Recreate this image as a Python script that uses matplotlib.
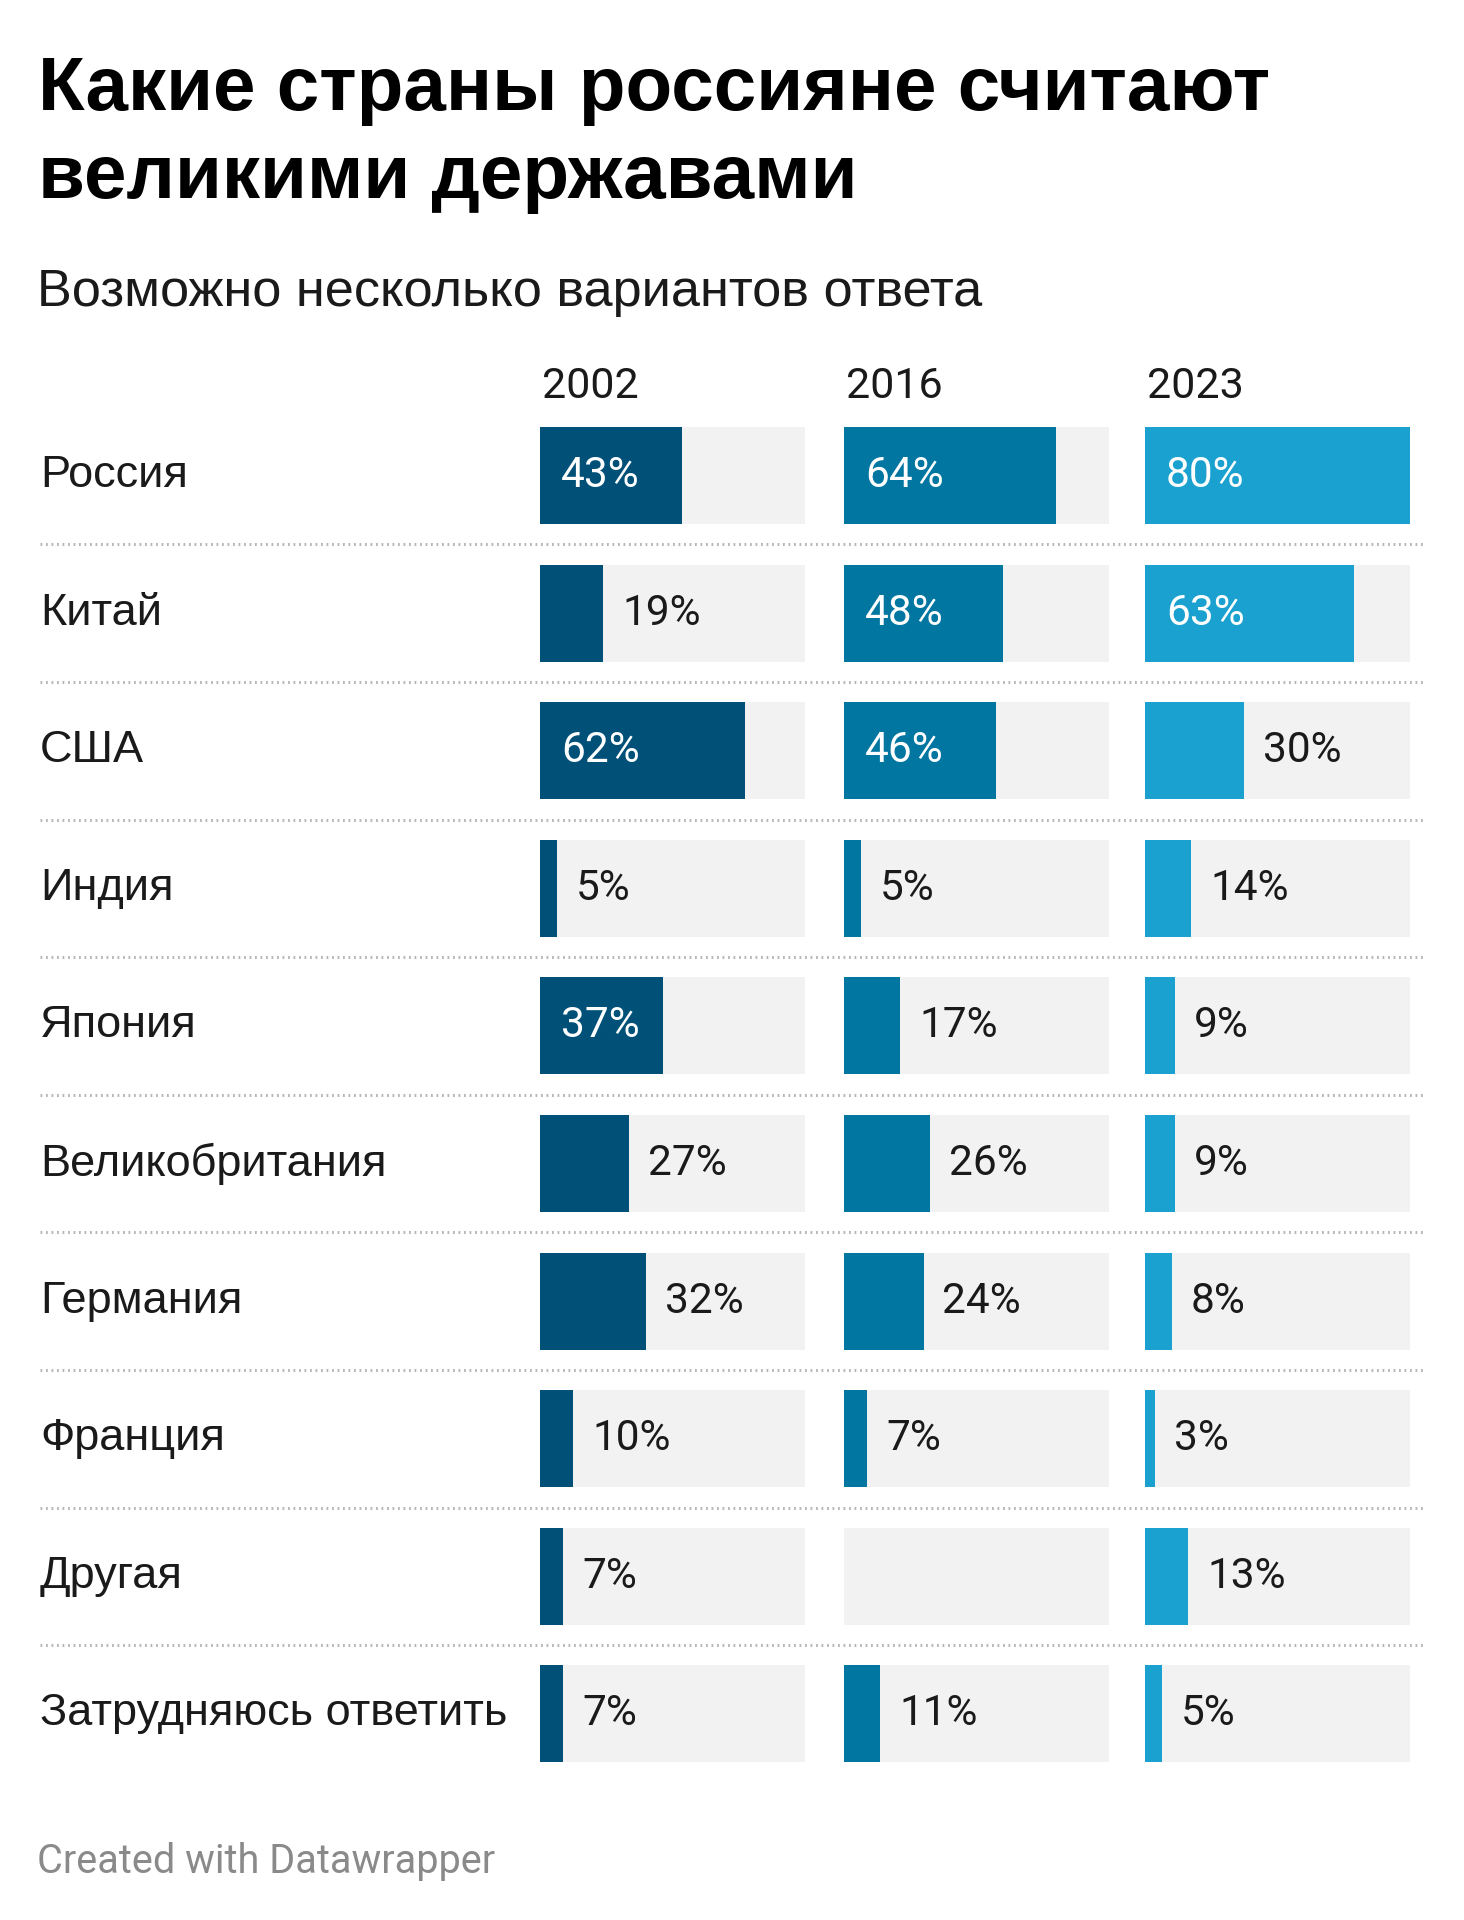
import numpy as np
import matplotlib
matplotlib.use("Agg")
import matplotlib.pyplot as plt
from matplotlib.transforms import blended_transform_factory
from matplotlib.lines import Line2D

# ---------------- data ----------------
countries = ["Россия", "Китай", "США", "Индия", "Япония", "Великобритания",
             "Германия", "Франция", "Другая", "Затрудняюсь ответить"]
years = ["2002", "2016", "2023"]
v2002 = [43, 19, 62, 5, 37, 27, 32, 10, 7, 7]
v2016 = [64, 48, 46, 5, 17, 26, 24, 7, np.nan, 11]
v2023 = [80, 63, 30, 14, 9, 9, 8, 3, 13, 5]
series = [v2002, v2016, v2023]
colors = ["#005078", "#0076A1", "#1AA1CF"]
scale_max = 80

title_lines = ["Какие страны россияне считают", "великими державами"]
subtitle = "Возможно несколько вариантов ответа"
footer = "Created with Datawrapper"

# ---------------- layout ----------------
W, H = 1464, 1920
fig = plt.figure(figsize=(W / 100, H / 100), dpi=100)
fig.patch.set_facecolor("white")

TITLE_FONT = ["Liberation Sans", "DejaVu Sans"]
LABEL_FONT = ["Liberation Sans", "DejaVu Sans"]
NUM_FONT = ["Roboto", "DejaVu Sans"]

def fx(px):
    return px / W

def fy(py):
    return 1 - py / H

n = len(countries)
pitch = 137.6
row0_center = 475.5
top_px = row0_center - pitch / 2
bot_px = row0_center + (n - 1) * pitch + pitch / 2
col_left = [540, 844, 1145]
col_w = 265
bar_h = 97 / pitch

axes = []
for j, (vals, col) in enumerate(zip(series, colors)):
    ax = fig.add_axes([fx(col_left[j]), fy(bot_px), fx(col_w), (bot_px - top_px) / H])
    ax.set_xlim(0, scale_max)
    ax.set_ylim(n - 0.5, -0.5)
    ax.axis("off")
    y = np.arange(n)
    ax.barh(y, [scale_max] * n, height=bar_h, color="#F2F2F2", zorder=1)
    ax.barh(y, vals, height=bar_h, color=col, zorder=2)
    px_per_unit = col_w / scale_max
    for i, v in enumerate(vals):
        if np.isnan(v):
            continue
        txt = f"{int(v)}%"
        inside = v * px_per_unit > 112
        if inside:
            ax.annotate(txt, (0, i), xytext=(21, 0), textcoords="offset pixels",
                        color="white", fontsize=30.5, family=NUM_FONT,
                        va="center", ha="left", zorder=3)
        else:
            ax.annotate(txt, (v, i), xytext=(19, 0), textcoords="offset pixels",
                        color="#1a1a1a", fontsize=30.5, family=NUM_FONT,
                        va="center", ha="left", zorder=3)
    fig.text(fx(col_left[j] + 2), fy(398), years[j], fontsize=31,
             family=NUM_FONT, color="#1a1a1a", ha="left", va="baseline")
    axes.append(ax)

# row labels and dotted separators
tr = blended_transform_factory(fig.transFigure, axes[0].transData)
for i, c in enumerate(countries):
    fig.text(fx(40), i, c, transform=tr, fontsize=32.5, family=LABEL_FONT,
             color="#1a1a1a", ha="left", va="center")
for i in range(n - 1):
    ln = Line2D([fx(40), fx(1424)], [i + 0.5, i + 0.5], transform=tr,
                color="#B8B8B8", linewidth=2.2, linestyle=(0, (0.6, 1.2)),
                dash_capstyle="butt")
    fig.add_artist(ln)

# title, subtitle, footer
fig.text(fx(38), fy(110), title_lines[0], fontsize=55, fontweight="bold",
         family=TITLE_FONT, color="#000000", ha="left", va="baseline")
fig.text(fx(38), fy(198), title_lines[1], fontsize=55, fontweight="bold",
         family=TITLE_FONT, color="#000000", ha="left", va="baseline")
fig.text(fx(37), fy(306), subtitle, fontsize=37.6, family=LABEL_FONT,
         color="#1a1a1a", ha="left", va="baseline")
fig.text(fx(37), fy(1873), footer, fontsize=28.5, family=NUM_FONT,
         color="#8a8a8a", ha="left", va="baseline")

fig.savefig("out.png", dpi=100, facecolor="white")
